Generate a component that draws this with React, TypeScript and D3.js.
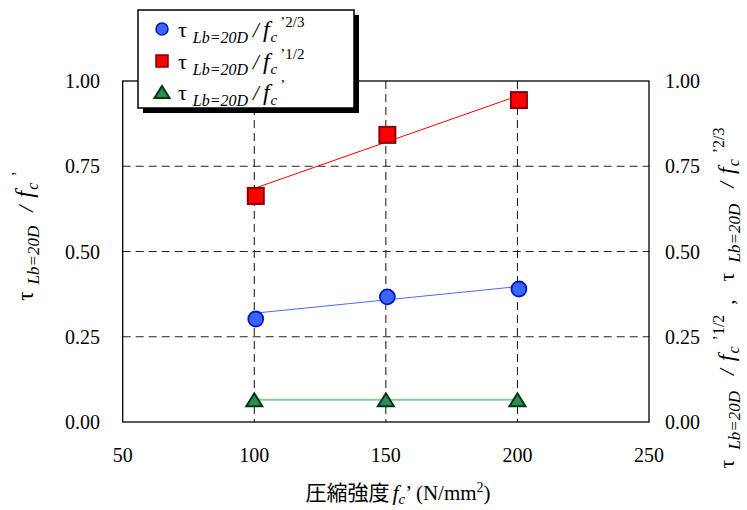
import React from 'react';
import * as d3 from 'd3';

// ---- data ----
const strengths = [100, 150, 200];
const ratio23 = [0.302, 0.367, 0.39];
const ratio12 = [0.663, 0.842, 0.944];
const ratio1 = [0.065, 0.065, 0.065];
const trendX = [100, 200];
const trend23 = [0.319, 0.397];
const trend12 = [0.685, 0.956];
const trend1 = [0.065, 0.065];
const xTicks = [50, 100, 150, 200, 250];
const yTicks = [0, 0.25, 0.5, 0.75, 1.0];
const xGrid = [100, 150, 200];
const yGrid = [0.25, 0.5, 0.75];

const W = 747;
const H = 510;
const plot = { left: 122.7, right: 649, top: 81, bottom: 422 };
const SERIF = 'Liberation Serif, Times New Roman, Noto Sans CJK JP, serif';

const x = d3.scaleLinear().domain([50, 250]).range([plot.left, plot.right]);
const y = d3.scaleLinear().domain([0, 1]).range([plot.bottom, plot.top]);

const lineGen = d3
  .line<[number, number]>()
  .x((d) => x(d[0]))
  .y((d) => y(d[1]));

const pairs = (xs: number[], ys: number[]) => xs.map((v, i) => [v, ys[i]] as [number, number]);

const triPath = (cx: number, cy: number, w: number, h: number) =>
  `M${cx},${cy - h / 2}L${cx + w / 2},${cy + h / 2}L${cx - w / 2},${cy + h / 2}Z`;

type TermProps = {
  sup: string;
  main?: number;
  sub?: number;
  gaps?: number[];
  lead?: number;
  leadDy?: number;
};

function TauTerm({ sup, main = 20, sub = 16, gaps = [5, 4, 2, 1], lead = 0, leadDy = 0 }: TermProps) {
  return (
    <>
      <tspan fontSize={main + 1} dx={lead} dy={leadDy}>τ</tspan>
      <tspan fontSize={sub} fontStyle="italic" dx={gaps[0]} dy={6}>Lb=20D</tspan>
      <tspan fontSize={main} fontStyle="italic" dx={gaps[1]} dy={-6}>/</tspan>
      <tspan fontSize={main + 3} fontStyle="italic" dx={gaps[2]}>f</tspan>
      <tspan fontSize={sub - 1} fontStyle="italic" dx={1} dy={5}>c</tspan>
      <tspan fontSize={sub - 1} dx={gaps[3]} dy={-15}>{sup}</tspan>
    </>
  );
}

export default function App() {
  const red = pairs(strengths, ratio12);
  const blue = pairs(strengths, ratio23);
  const green = pairs(strengths, ratio1);

  const legendX = 138;
  const legendY = 10;
  const legendW = 216;
  const legendH = 98;
  const rows = [
    { sup: '’2/3', kind: 'circle', base: 37 },
    { sup: '’1/2', kind: 'square', base: 69 },
    { sup: '’', kind: 'tri', base: 100 },
  ];

  const textStyle = { fontFamily: SERIF };

  return (
    <div style={{ position: 'fixed', left: 0, top: 0 }}>
      <svg width={W} height={H} style={{ display: 'block', background: '#fff', fontFamily: SERIF }}>
        <rect width={W} height={H} fill="#fff" />
        {/* grid */}
        {xGrid.map((v) => (
          <line key={'gx' + v} x1={x(v)} x2={x(v)} y1={plot.top} y2={plot.bottom} stroke="#111" strokeWidth={1} strokeDasharray="8,5" />
        ))}
        {yGrid.map((v) => (
          <line key={'gy' + v} x1={plot.left} x2={plot.right} y1={y(v)} y2={y(v)} stroke="#222" strokeWidth={1} strokeDasharray="8,5" />
        ))}
        {/* plot border */}
        <rect x={plot.left} y={plot.top} width={plot.right - plot.left} height={plot.bottom - plot.top} fill="none" stroke="#000" strokeWidth={1.3} />

        {/* trend lines */}
        <path d={lineGen(pairs(trendX, trend12)) || ''} fill="none" stroke="#ff0000" strokeWidth={1} />
        <path d={lineGen(pairs(trendX, trend23)) || ''} fill="none" stroke="#4a6cff" strokeWidth={1} />
        <path d={lineGen(pairs(trendX, trend1)) || ''} fill="none" stroke="#8cc9a8" strokeWidth={2} />

        {/* markers */}
        {red.map((d, i) => (
          <rect key={'r' + i} x={x(d[0]) + 1.5 - 8} y={y(d[1]) - 8} width={16} height={16} fill="#ff0000" stroke="#8b0000" strokeWidth={2} />
        ))}
        {blue.map((d, i) => (
          <circle key={'b' + i} cx={x(d[0]) + 1.5} cy={y(d[1])} r={7.5} fill="#3a66ff" stroke="#0018c8" strokeWidth={1.8} />
        ))}
        {green.map((d, i) => (
          <path key={'g' + i} d={triPath(x(d[0]), y(d[1]), 16, 13)} fill="#2e8b57" stroke="#003a10" strokeWidth={2} strokeLinejoin="miter" />
        ))}

        {/* left tick labels */}
        {yTicks.map((v) => (
          <text key={'yl' + v} x={100} y={y(v) + 7} textAnchor="end" fontSize={20} fill="#000" style={textStyle}>
            {v.toFixed(2)}
          </text>
        ))}
        {/* right tick labels */}
        {yTicks.map((v) => (
          <text key={'yr' + v} x={665} y={y(v) + 7} textAnchor="start" fontSize={20} fill="#000" style={textStyle}>
            {v.toFixed(2)}
          </text>
        ))}
        {/* x tick labels */}
        {xTicks.map((v) => (
          <text key={'xl' + v} x={x(v)} y={462} textAnchor="middle" fontSize={20} fill="#000" style={textStyle}>
            {v}
          </text>
        ))}

        {/* x axis title */}
        <text x={398} y={500} textAnchor="middle" fontSize={21} fill="#000" style={textStyle}>
          <tspan>圧縮強度</tspan>
          <tspan fontStyle="italic" fontSize={22} dx={3}>f</tspan>
          <tspan fontStyle="italic" fontSize={15} dy={4}>c</tspan>
          <tspan fontSize={21} dy={-4}>’ (N/mm</tspan>
          <tspan fontSize={14} dy={-8}>2</tspan>
          <tspan fontSize={21} dy={8}>)</tspan>
        </text>

        {/* left axis title */}
        <text transform="translate(33,236) rotate(-90)" textAnchor="middle" fill="#000" style={textStyle}>
          <TauTerm sup="’" main={22} sub={17} gaps={[7, 14, 8, 6]} />
        </text>

        {/* right axis title */}
        <text transform="translate(734,298) rotate(-90)" textAnchor="middle" fill="#000" style={textStyle}>
          <TauTerm sup="’1/2" main={21} sub={17} gaps={[10, 16, 8, 6]} />
          <tspan fontSize={21} dx={10} dy={10}>,</tspan>
          <TauTerm sup="’2/3" main={21} sub={17} gaps={[10, 16, 8, 6]} lead={18} />
        </text>

        {/* legend */}
        <rect x={legendX + 5} y={legendY + 5} width={legendW} height={legendH} fill="#000" />
        <rect x={legendX} y={legendY} width={legendW} height={legendH} fill="#fff" stroke="#000" strokeWidth={1.5} />
        {rows.map((r) => {
          const my = r.base - 8;
          return (
            <g key={r.kind}>
              {r.kind === 'circle' && <circle cx={162} cy={my} r={6} fill="#3a66ff" stroke="#0018c8" strokeWidth={1.5} />}
              {r.kind === 'square' && <rect x={156} y={my - 6} width={12} height={12} fill="#ff0000" stroke="#8b0000" strokeWidth={1.5} />}
              {r.kind === 'tri' && <path d={triPath(162, my, 15, 12)} fill="#2e8b57" stroke="#003a10" strokeWidth={2} />}
              <text x={178} y={r.base} fill="#000" style={textStyle}>
                <TauTerm sup={r.sup} main={21} sub={16} gaps={[6, 5, 4, 3]} />
              </text>
            </g>
          );
        })}
      </svg>
    </div>
  );
}
